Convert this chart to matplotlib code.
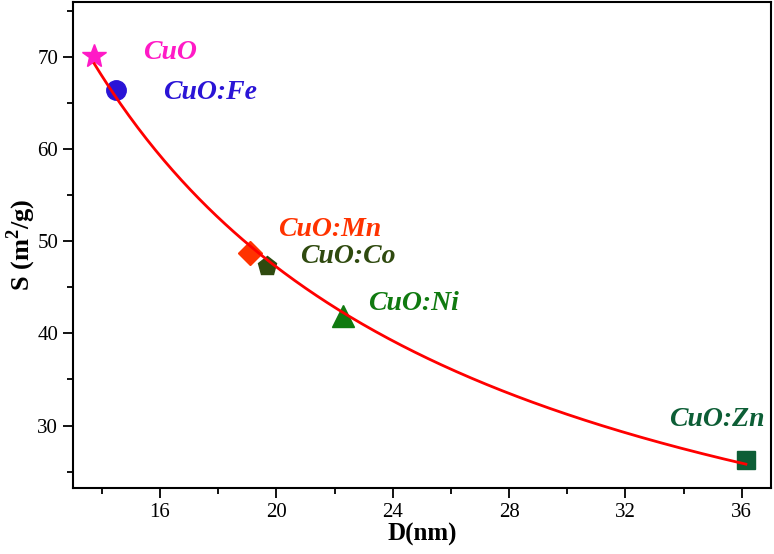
import numpy as np
import matplotlib
matplotlib.use('Agg')
import matplotlib.pyplot as plt
from matplotlib.ticker import MultipleLocator

plt.rcParams['font.family'] = ['Liberation Serif', 'DejaVu Serif']
plt.rcParams['mathtext.fontset'] = 'custom'
plt.rcParams['mathtext.rm'] = 'Liberation Serif'
plt.rcParams['mathtext.bf'] = 'Liberation Serif:bold'

# Samples
samples = ['CuO', 'CuO:Fe', 'CuO:Mn', 'CuO:Co', 'CuO:Ni', 'CuO:Zn']
size_nm = [13.74, 14.49, 19.09, 19.67, 22.28, 36.14]
area = [70.2, 66.5, 48.8, 47.3, 41.85, 26.2]
markers = ['*', 'o', 'D', 'p', '^', 's']
colors = ['#ff1ac6', '#2a14d6', '#ff3300', '#2f4a0f', '#107a10', '#0d5e36']
label_pos = [(15.42, 69.8), (16.1, 65.45), (20.05, 50.55), (20.8, 47.7), (23.14, 42.6), (33.5, 30.0)]

fig = plt.figure(figsize=(7.74, 5.54), dpi=100)
ax = fig.add_axes([0.094, 0.119, 0.902, 0.877])

# power-law fit through the points (S ~ A * D^b)
b, logA = np.polyfit(np.log(size_nm), np.log(area), 1)
xs = np.linspace(min(size_nm), max(size_nm), 300)
ax.plot(xs, np.exp(logA) * xs ** b, color='red', lw=2, zorder=3)

msz = [18, 14, 12, 14, 16, 13]
for name, d, s, m, c, (tx, ty), ms in zip(samples, size_nm, area, markers, colors, label_pos, msz):
    ax.plot([d], [s], marker=m, color=c, markersize=ms, ls='none', zorder=2)
    ax.text(tx, ty, name, color=c, fontsize=20, fontweight='bold', fontstyle='italic',
            va='baseline', ha='left')

ax.set_xlim(13, 37)
ax.set_ylim(23.2, 76)
ax.xaxis.set_major_locator(MultipleLocator(4))
ax.xaxis.set_minor_locator(MultipleLocator(2))
ax.yaxis.set_major_locator(MultipleLocator(10))
ax.yaxis.set_minor_locator(MultipleLocator(5))
ax.tick_params(which='major', direction='out', length=7, width=1.3, labelsize=15)
ax.tick_params(which='minor', direction='out', length=4, width=1.3)
for sp in ax.spines.values():
    sp.set_linewidth(1.5)

ax.set_xlabel('D(nm)', fontsize=18, fontweight='bold', labelpad=1)
ax.set_ylabel(r'S (m$^\mathbf{2}$/g)', fontsize=19, fontweight='bold')
ax.yaxis.set_label_coords(-0.05, 0.5)

fig.savefig('out.png', dpi=100)
